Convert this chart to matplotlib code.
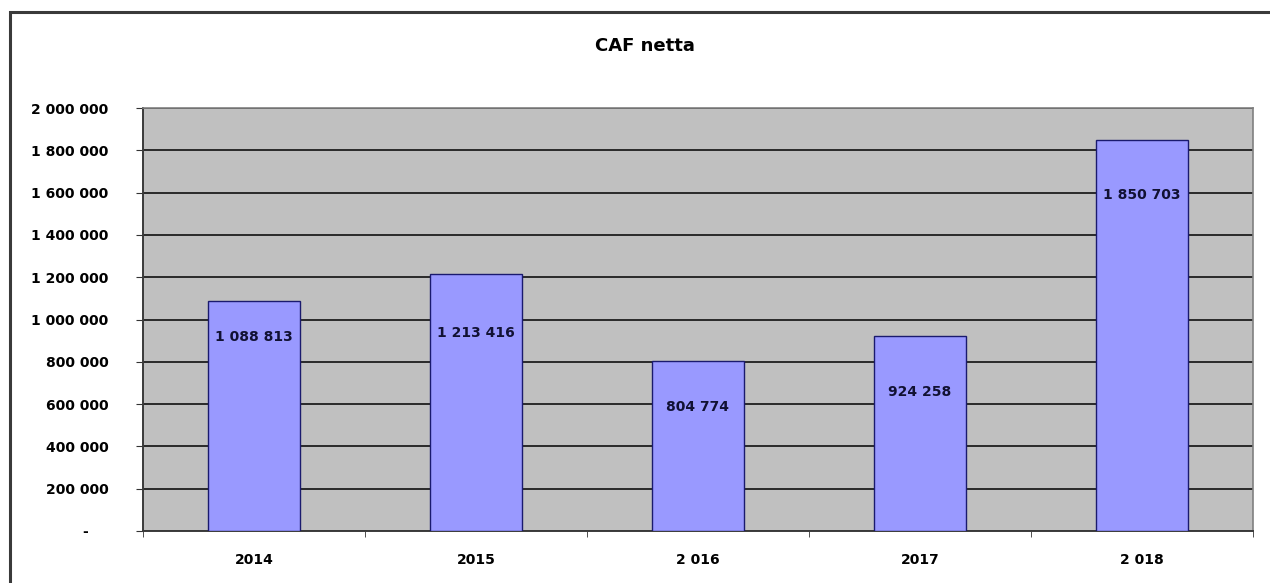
import matplotlib.pyplot as plt
import matplotlib.patches as mpatches
from matplotlib.ticker import FuncFormatter

plt.rcParams['font.family'] = ['DejaVu Sans']

years = ['2014', '2015', '2 016', '2017', '2 018']
caf = [1088813, 1213416, 804774, 924258, 1850703]
# vertical shift of each value label below the bar top (points)
label_drop = [26, 42, 33, 41, 40]


def spaced(v, pos=None):
    # accounting style: zero shown as a dash, thousands split by spaces
    if v == 0:
        return '-    '
    return f'{int(round(v)):,}'.replace(',', ' ')


fig = plt.figure(figsize=(12.7, 5.83), dpi=100)
ax = fig.add_axes([143 / 1270, 1 - 531 / 583, 1110 / 1270, 423 / 583])

# outer chart frame
fig.patches.append(mpatches.Rectangle((10 / 1270, -0.05), 1.1, 1 - 12 / 583 + 0.05,
                                      transform=fig.transFigure, fill=False,
                                      edgecolor='#3a3a3a', linewidth=2.2))

ax.set_facecolor('#c0c0c0')
x = range(len(years))
bars = ax.bar(x, caf, width=0.41, color='#9999ff', edgecolor='#1a1a6e',
              linewidth=1.0, zorder=3)

ax.set_xlim(-0.5, len(years) - 0.5)
ax.set_ylim(0, 2000000)
ax.set_yticks(range(0, 2000001, 200000))
ax.yaxis.set_major_formatter(FuncFormatter(spaced))
ax.grid(axis='y', color='#1e1e1e', linewidth=1.3, zorder=1)

ax.set_xticks(list(x))
ax.set_xticklabels(years, fontweight='bold')
ax.set_xticks([i + 0.5 for i in range(-1, len(years))], minor=True)
ax.tick_params(axis='x', which='major', length=0, pad=16, labelsize=10)
ax.tick_params(axis='x', which='minor', length=4, color='#333333', direction='out')
ax.tick_params(axis='y', length=5, color='#333333', pad=20, labelsize=10)
for lbl in ax.get_yticklabels():
    lbl.set_fontweight('bold')

for side in ['left', 'bottom']:
    ax.spines[side].set_color('#3a3a3a')
    ax.spines[side].set_linewidth(1.4)
for side in ['top', 'right']:
    ax.spines[side].set_color('#808080')
    ax.spines[side].set_linewidth(1.2)

for b, v, d in zip(bars, caf, label_drop):
    ax.annotate(spaced(v), (b.get_x() + b.get_width() / 2, v), xytext=(0, -d),
                textcoords='offset points', ha='center', va='center',
                fontsize=10, fontweight='bold', color='#111133', zorder=4)

fig.text(645 / 1270, 1 - 46 / 583, 'CAF netta', ha='center', va='center',
         fontsize=13, fontweight='bold')

fig.savefig('out.png', dpi=100)
